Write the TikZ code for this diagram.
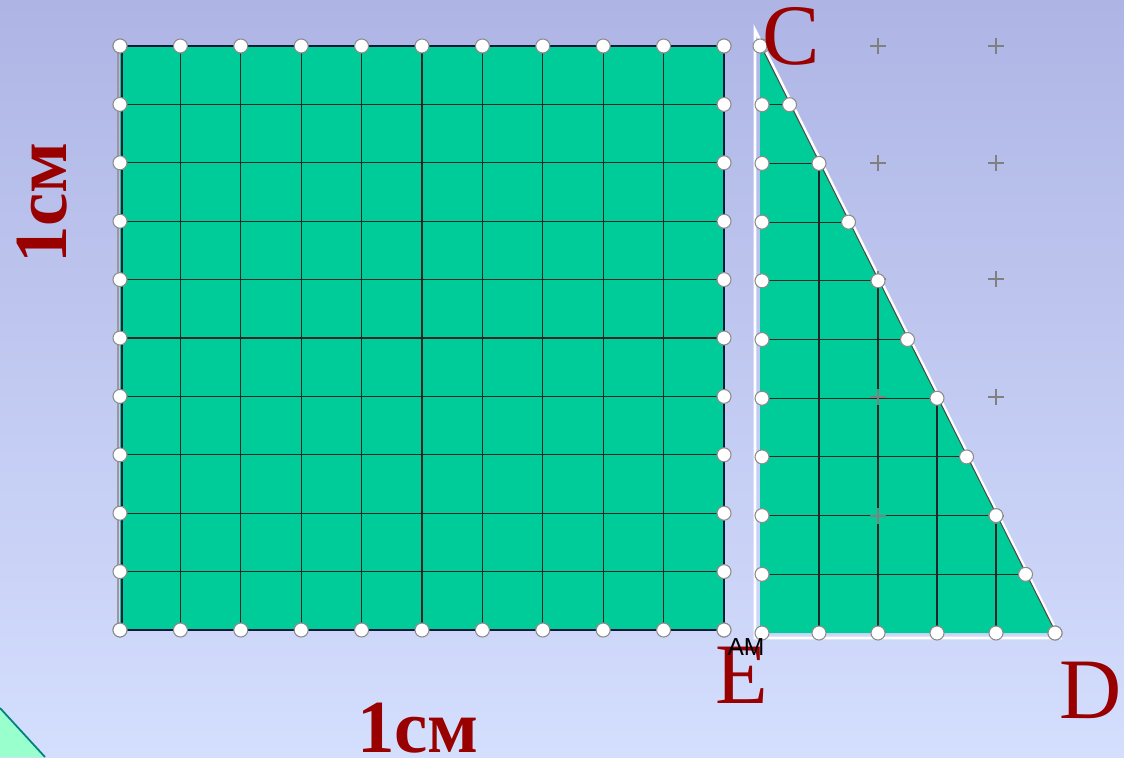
\documentclass[tikz,border=0pt]{standalone}
\usepackage{fontspec}
\setmainfont{Liberation Serif}
\newfontfamily\amfont{Liberation Sans}
\usepackage{xcolor}
\definecolor{bgtop}{RGB}{174,181,229}
\definecolor{bgmid}{RGB}{206,215,249}
\definecolor{bgbot}{RGB}{212,222,253}
\definecolor{tilegreen}{RGB}{0,204,153}
\definecolor{paleleaf}{RGB}{153,255,204}
\definecolor{edgeteal}{RGB}{0,128,128}
\definecolor{darkred}{RGB}{153,0,0}
\definecolor{navyline}{RGB}{10,26,58}

\begin{document}
\begin{tikzpicture}[
    x=0.01cm, y=-0.01cm,
    gridline/.style={draw=black!85, line width=0.3pt},
    pt/.style={fill=white, draw=black!45, line width=0.3pt},
    cross/.style={draw=black!50, line width=0.8pt},
    lbl/.style={text=darkred, font=\fontsize{24.5}{26}\selectfont, inner sep=0pt, anchor=base},
    unit/.style={text=darkred, font=\fontsize{21.3}{23}\selectfont\bfseries, inner sep=0pt},
]
    % background
    \useasboundingbox (0,0) rectangle (1124,757);
    \shade[top color=bgtop, middle color=bgmid, bottom color=bgbot] (0,0) rectangle (1124,757);
    \fill[paleleaf] (0,708) -- (45,757) -- (0,757) -- cycle;
    \draw[edgeteal, line width=0.5pt] (0,708) -- (45,757);

    % square 10x10
    \fill[tilegreen] (120,46) rectangle (724,630);
    \foreach \i in {1,...,9} {
        \draw[gridline] ({120+60.4*\i},46) -- ({120+60.4*\i},630);
        \draw[gridline] (120,{46+58.4*\i}) -- (724,{46+58.4*\i});
    }
    \draw[black!40, line width=0.4pt] (118,46) -- (118,630);
    \draw[navyline, line width=0.8pt] (122,46) rectangle (724,630);

    % triangle CED
    \draw[white, line width=0.8pt] (755,30) -- (755,638) -- (1060,638) -- cycle;
    \fill[tilegreen] (760,44) -- (760,633) -- (1056,633) -- cycle;
    \draw[black!70, line width=0.3pt] (760,44) -- (1056,633);
    \foreach \j in {1,...,9}
        \draw[gridline] (760,{46+58.7*\j}) -- ({760+29.5*\j},{46+58.7*\j});
    \foreach \i in {1,...,4}
        \draw[gridline] ({760+59*\i},633) -- ({760+59*\i},{46+117.4*\i});

    % crosses
    \foreach \px in {878,996}
        \foreach \py in {46,163,279,397,516}
            \draw[cross] (\px-8,\py) -- (\px+8,\py) (\px,\py-8) -- (\px,\py+8);

    % points on the square
    \foreach \i in {0,...,10} {
        \path[pt] ({120+60.4*\i},46) circle (7);
        \path[pt] ({120+60.4*\i},630) circle (7);
        \path[pt] (120,{46+58.4*\i}) circle (7);
        \path[pt] (724,{46+58.4*\i}) circle (7);
    }
    % points on the triangle
    \foreach \j in {0,...,10} {
        \path[pt] (762,{46+58.7*\j}) circle (7);
        \path[pt] ({760+29.5*\j},{46+58.7*\j}) circle (7);
    }
    \foreach \i in {1,...,5}
        \path[pt] ({760+59*\i},633) circle (7);

    % labels
    \node[lbl] (C) at (791,64) {C};
    \node[lbl] (E) at (742,703) {E};
    \node[lbl] (D) at (1091,718) {D};
    \node[font=\amfont\fontsize{7}{8}\selectfont, inner sep=0pt, anchor=base] (am) at (746,655) {AM};
    \node[unit, anchor=base] (wdt) at (418,752) {1см};
    \node[unit, rotate=90] (hgt) at (42,203) {1см};
\end{tikzpicture}
\end{document}
